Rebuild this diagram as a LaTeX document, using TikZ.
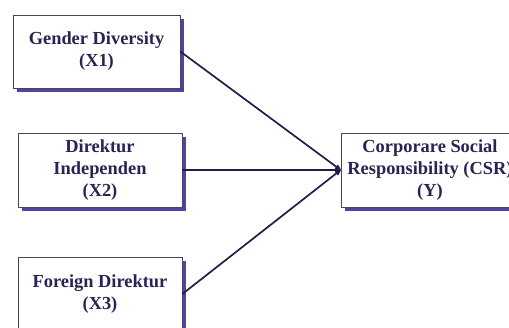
\documentclass[tikz,border=0pt]{standalone}
\usepackage{fontspec}
\setmainfont{Liberation Serif}
\usetikzlibrary{arrows.meta,shadows}
\definecolor{txtnavy}{RGB}{40,36,84}
\definecolor{linenavy}{RGB}{34,28,72}
\definecolor{shadowblue}{RGB}{80,68,160}
\definecolor{boxgray}{RGB}{70,70,88}
\tikzset{
  varbox/.style={draw=boxgray,line width=0.7pt,fill=white,
    minimum width=164pt,minimum height=74pt,inner sep=0pt,
    align=center,text=txtnavy,
    font=\fontsize{18.4}{22}\selectfont\bfseries,
    general shadow={fill=shadowblue,shadow xshift=3.5pt,shadow yshift=-3.5pt}},
  path/.style={draw=linenavy,line width=1.7pt,-{Stealth[length=8pt,width=7pt,round]}}
}
\begin{document}
\begin{tikzpicture}[x=1pt,y=-1pt]
\useasboundingbox (0,0) rectangle (509,327);
% Draw variables
  \node[varbox,minimum width=167pt,minimum height=73pt] (x1) at (96.5,51.5) {Gender Diversity\\(X1)};
  \node[varbox] (x2) at (100,170) {Direktur\\Independen\\(X2)};
  \node[varbox] (x3) at (100,294) {Foreign Direktur\\(X3)};
  \node[varbox,minimum width=178pt] (y) at (430,170) {Corporare Social\\Responsibility (CSR)\\(Y)};
% Draw paths
  \foreach \k in {x1,x2,x3} {
    \draw[path] (\k.east) -- (y.west);
  }
\end{tikzpicture}
\end{document}
